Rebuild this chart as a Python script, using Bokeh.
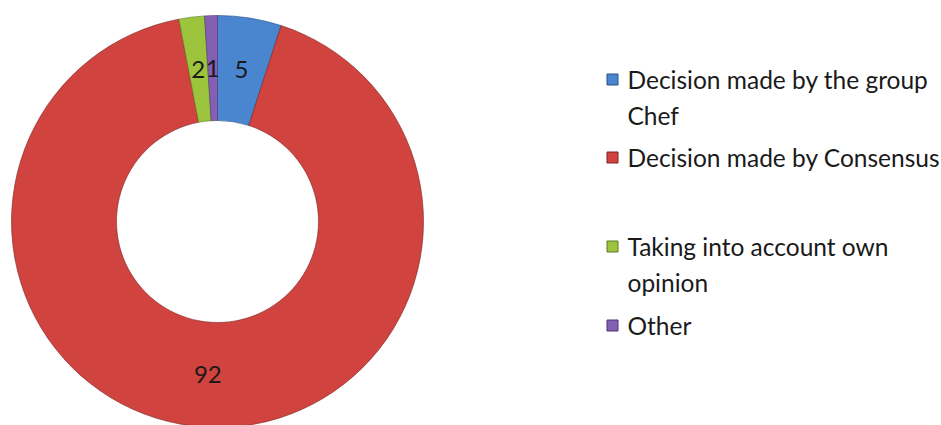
import math
from bokeh.plotting import figure
from bokeh.models import Range1d, ColumnDataSource
from bokeh.embed import file_html
from bokeh.resources import INLINE
from bokeh.core.properties import value

# ---- data ----
categories = ["Decision made by the group Chef", "Decision made by Consensus",
              "Taking into account own opinion", "Other"]
legend_lines = [["Decision made by the group", "Chef"],
                ["Decision made by Consensus"],
                ["Taking into account own", "opinion"],
                ["Other"]]
values = [5, 92, 2, 1]
colors = ["#4a86d0", "#d0433f", "#9cc43c", "#8460b4"]
edge_colors = ["#2a4f80", "#7a2624", "#5c7a20", "#4c3470"]

# ---- layout ----
W, H = 941, 425
FONT = "Lato"

def px(X):
    return X

def py(Y):
    return H - Y

cx, cy = px(217), py(221)
r_out, r_in = 206, 101

p = figure(width=W, height=H, x_range=Range1d(0, W), y_range=Range1d(0, H),
           output_backend="svg", toolbar_location=None, min_border=0,
           x_axis_location=None, y_axis_location=None)
p.grid.visible = False
p.outline_line_color = None
p.background_fill_color = "white"
p.border_fill_color = "white"

total = float(sum(values))
starts, ends, mids = [], [], []
cum = 0.0
for v in values:
    a0 = math.pi / 2 - 2 * math.pi * cum / total
    cum += v
    a1 = math.pi / 2 - 2 * math.pi * cum / total
    starts.append(a0)
    ends.append(a1)
    mids.append((a0 + a1) / 2)

src = ColumnDataSource(dict(start=starts, end=ends, color=colors, edge=edge_colors,
                            name=categories))
p.annular_wedge(x=cx, y=cy, inner_radius=r_in, outer_radius=r_out,
                start_angle="start", end_angle="end", direction="clock",
                inner_radius_units="screen", outer_radius_units="screen",
                fill_color="color", line_color="edge", line_width=1, line_alpha=0.6,
                source=src)

r_lab = (r_in + r_out) / 2
lab = ColumnDataSource(dict(
    x=[cx + r_lab * math.cos(m) for m in mids],
    y=[cy + r_lab * math.sin(m) for m in mids],
    t=[str(v) for v in values]))
p.text(x="x", y="y", text="t", source=lab, text_font=value(FONT),
       text_font_size="24px", text_color="#1a1a1a",
       text_align="center", text_baseline="middle")

# ---- legend ----
entry_y = [79, 157, 246, 325]
line_gap = 36
sq_x = px(612)
txt_x = px(627)
for i, lines in enumerate(legend_lines):
    yy = py(entry_y[i])
    p.rect(x=[sq_x], y=[yy], width=11, height=11, fill_color=colors[i],
           line_color=edge_colors[i], line_width=1)
    for j, ln in enumerate(lines):
        p.text(x=[txt_x], y=[yy - j * line_gap], text=[ln], text_font=value(FONT),
               text_font_size="24.5px", text_color="#1a1a1a",
               text_align="left", text_baseline="middle")

open("out.html", "w").write(file_html(p, INLINE))
